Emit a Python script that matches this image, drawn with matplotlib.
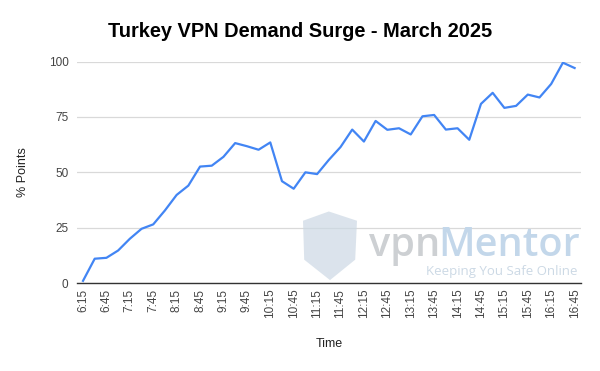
#!/usr/bin/env python3

import numpy as np
import matplotlib.pyplot as plt
from matplotlib.patches import Polygon

plt.rcParams['font.family'] = ['Liberation Sans', 'DejaVu Sans']

# Readings every 15 minutes from 6:15 to 16:45
times = ['6:15', '6:30', '6:45', '7:00', '7:15', '7:30', '7:45', '8:00',
         '8:15', '8:30', '8:45', '9:00', '9:15', '9:30', '9:45', '10:00',
         '10:15', '10:30', '10:45', '11:00', '11:15', '11:30', '11:45',
         '12:00', '12:15', '12:30', '12:45', '13:00', '13:15', '13:30',
         '13:45', '14:00', '14:15', '14:30', '14:45', '15:00', '15:15',
         '15:30', '15:45', '16:00', '16:15', '16:30', '16:45']
points = [1, 11, 11.4, 14.7, 20, 24.5, 26.5, 32.8, 39.8, 44, 52.6, 53,
          57, 63.2, 61.8, 60.2, 63.5, 46, 42.6, 50, 49.2, 55.6, 61.4,
          69.3, 63.9, 73.2, 69.2, 69.9, 67.1, 75.3, 75.9, 69.3, 69.9,
          64.7, 80.9, 85.9, 79.1, 80, 85.1, 83.8, 89.9, 99.5, 97.1]
yticks = [0, 25, 50, 75, 100]

fig = plt.figure(figsize=(6, 3.71), dpi=100)
ax = fig.add_axes([0.128, 0.237, 0.840, 0.597])

x = np.arange(len(times))
ax.plot(x, points, color='#4285F4', lw=1.6, zorder=3)

ax.set_xlim(-0.53, len(times) - 0.47)
ax.set_ylim(0, 100)
ax.set_yticks(yticks)
ax.set_xticks(x[::2])
ax.set_xticklabels(times[::2], rotation=90, fontsize=8.5, color='#444444')
ax.tick_params(axis='y', labelsize=8.5, labelcolor='#444444', length=0, pad=6)
ax.tick_params(axis='x', length=0, pad=4)
ax.grid(axis='y', color='#d9d9d9', lw=0.9)
for s in ['top', 'right', 'left']:
    ax.spines[s].set_visible(False)
ax.spines['bottom'].set_color('#333333')
ax.spines['bottom'].set_linewidth(1.0)
ax.spines['bottom'].set_zorder(4)

ax.set_xlabel('Time', fontsize=9, color='#222222', labelpad=14)
ax.set_ylabel('% Points', fontsize=9, color='#222222', labelpad=14)
fig.text(0.5, 0.914, 'Turkey VPN Demand Surge - March 2025', ha='center',
         va='center', fontsize=14.4, fontweight='bold', color='#000000')

# vpnMentor watermark
shield = Polygon([[0.505, 0.405], [0.548, 0.43], [0.595, 0.405],
                  [0.592, 0.30], [0.550, 0.245], [0.507, 0.30]],
                 closed=True, transform=fig.transFigure,
                 facecolor='#ccd8e4', edgecolor='none', alpha=0.7, zorder=1)
fig.patches.append(shield)
t1 = fig.text(0.615, 0.338, 'vpn', fontsize=28.5, color='#cdd0d3',
              fontweight='semibold', va='center', ha='left',
              fontfamily='Open Sans')
fig.canvas.draw()
bb = t1.get_window_extent().transformed(fig.transFigure.inverted())
fig.text(bb.x1 - 0.004, 0.338, 'Mentor', fontsize=28.5, color='#c3d7ea',
         fontweight='semibold', va='center', ha='left',
         fontfamily='Open Sans')
fig.text(0.963, 0.268, 'Keeping You Safe Online', fontsize=9.5,
         color='#ccd9e5', va='center', ha='right', fontfamily='Open Sans')

fig.savefig('out.png', dpi=100)
